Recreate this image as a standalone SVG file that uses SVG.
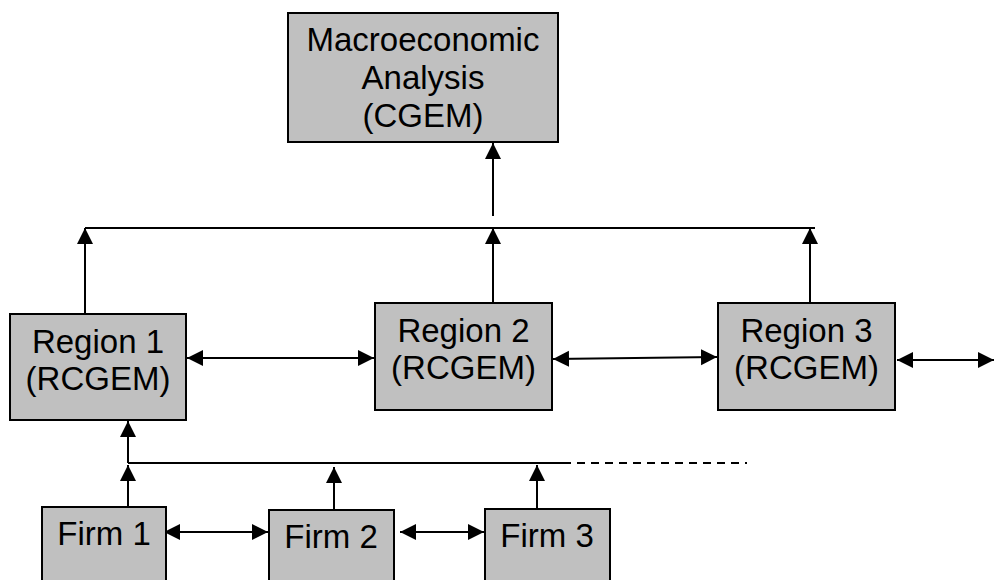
<svg xmlns="http://www.w3.org/2000/svg" width="994" height="580" viewBox="0 0 994 580">
<style>
.box{fill:#C0C0C0;stroke:#000;stroke-width:2}
.t{font-family:"Liberation Sans",Arial,sans-serif;font-size:33px;fill:#000;text-anchor:middle}
.ln{stroke:#000;stroke-width:2;fill:none}
.a{marker-end:url(#ah)}
.d{marker-start:url(#ah);marker-end:url(#ah)}
</style>
<defs>
<marker id="ah" markerUnits="userSpaceOnUse" markerWidth="17" markerHeight="17" refX="16" refY="8" orient="auto-start-reverse" viewBox="0 0 17 17">
<path d="M0,0 L16,8 L0,16 Z" fill="#000"/>
</marker>
</defs>
<rect width="994" height="580" fill="#fff"/>
<g id="connectors">
<line class="ln a" x1="493" y1="216" x2="493" y2="143"/>
<line class="ln" x1="85" y1="228" x2="815" y2="228"/>
<line class="ln a" x1="85" y1="325" x2="85" y2="228"/>
<line class="ln a" x1="493" y1="303" x2="493" y2="228"/>
<line class="ln a" x1="810" y1="303" x2="810" y2="228"/>
<line class="ln d" x1="187" y1="358" x2="374" y2="358"/>
<line class="ln d" x1="553" y1="359" x2="717" y2="357"/>
<line class="ln d" x1="897" y1="360" x2="994" y2="360"/>
<line class="ln" x1="128" y1="463" x2="563" y2="463"/>
<line class="ln" x1="563" y1="463" x2="747" y2="463" stroke-dasharray="8,6"/>
<line class="ln a" x1="128" y1="463" x2="128" y2="421"/>
<line class="ln a" x1="128" y1="507" x2="128" y2="465"/>
<line class="ln a" x1="334" y1="510" x2="334" y2="467"/>
<line class="ln a" x1="537" y1="509" x2="537" y2="465"/>
<line class="ln d" x1="164" y1="532" x2="268" y2="532"/>
<line class="ln d" x1="400" y1="532" x2="484" y2="532"/>
</g>
<g id="macro">
<rect class="box" x="288" y="13" width="270" height="129"/>
<text class="t" x="423" y="51">Macroeconomic</text>
<text class="t" x="423" y="89">Analysis</text>
<text class="t" x="423" y="127">(CGEM)</text>
</g>
<g id="region1">
<rect class="box" x="10" y="314" width="176" height="106"/>
<text class="t" x="98" y="353">Region 1</text>
<text class="t" x="98" y="390">(RCGEM)</text>
</g>
<g id="region2">
<rect class="box" x="375" y="303" width="177" height="107"/>
<text class="t" x="463.5" y="342">Region 2</text>
<text class="t" x="463.5" y="379">(RCGEM)</text>
</g>
<g id="region3">
<rect class="box" x="718" y="303" width="177" height="107"/>
<text class="t" x="806.5" y="342">Region 3</text>
<text class="t" x="806.5" y="379">(RCGEM)</text>
</g>
<g id="firm1">
<rect class="box" x="42" y="507" width="124" height="80"/>
<text class="t" x="104" y="545">Firm 1</text>
</g>
<g id="firm2">
<rect class="box" x="269" y="510" width="125" height="80"/>
<text class="t" x="331" y="548">Firm 2</text>
</g>
<g id="firm3">
<rect class="box" x="485" y="509" width="125" height="80"/>
<text class="t" x="547" y="547">Firm 3</text>
</g>
</svg>
